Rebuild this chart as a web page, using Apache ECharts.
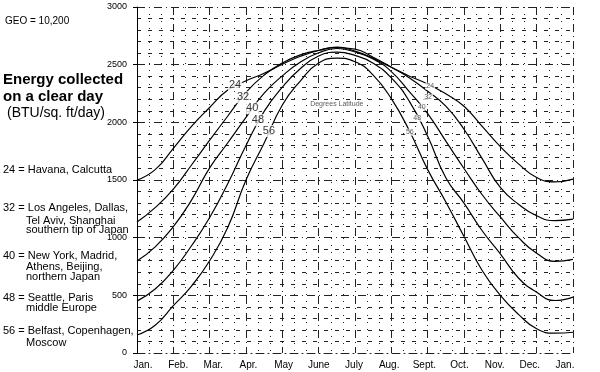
<!DOCTYPE html>
<html>
<head>
<meta charset="utf-8">
<script src="https://cdn.jsdelivr.net/npm/echarts@6/dist/echarts.min.js"></script>
<style>
html,body{margin:0;padding:0;background:#fff;}
#c{width:600px;height:372px;}
</style>
</head>
<body>
<div id="c"></div>
<script>
// ---- data ----
const MONTH_LABELS = ['Jan.','Feb.','Mar.','Apr.','May','June','July','Aug.','Sept.','Oct.','Nov.','Dec.','Jan.'];
// sample positions in months from Jan 1 (half-month steps)
const MONTH_POS = [0,0.5,1,1.5,2,2.5,3,3.5,4,4.5,5,5.5,6,6.5,7,7.5,8,8.5,9,9.5,10,10.5,11,11.5,12];
const LAT_24 = [1499,1590,1775,1965,2129,2280,2360,2425,2503,2573,2623,2652,2617,2555,2477,2400,2333,2247,2139,1965,1790,1640,1522,1484,1508];
const LAT_32 = [1135,1260,1420,1630,1845,2055,2260,2410,2515,2585,2625,2648,2635,2565,2478,2385,2270,2140,1940,1685,1435,1290,1190,1147,1160];
const LAT_40 = [797,920,1095,1325,1605,1823,2043,2253,2403,2523,2603,2640,2610,2550,2440,2265,2075,1837,1600,1372,1180,1000,865,795,812];
const LAT_48 = [450,555,717,930,1175,1470,1800,2095,2305,2467,2575,2608,2580,2513,2385,2180,1880,1520,1300,1060,860,650,527,455,485];
const LAT_56 = [156,240,410,580,800,1090,1500,1820,2150,2360,2515,2556,2525,2410,2205,1925,1590,1310,1010,715,500,335,210,172,180];
const SERIES_NAMES = ['24','32','40','48','56'];
const Y_TICKS = [0,500,1000,1500,2000,2500,3000];
// curve label anchors [month, value]
const LEFT_LABEL_AT = [[2.70,2323],[2.92,2218],[3.17,2123],[3.33,2019],[3.63,1924]];
const RIGHT_LABEL_AT = [[8.07,2314],[8.01,2218],[7.84,2132],[7.71,2036],[7.51,1915]];
const AXIS_NOTE = 'Degrees Latitude';
const AXIS_NOTE_AT = [5.5,2158];
const TITLE_LINES = ['Energy collected','on a clear day'];
const UNIT_LINE = '(BTU/sq. ft/day)';
const GEO_LINE = 'GEO = 10,200';
const LEGEND_LINES = [
  ['24 = Havana, Calcutta'],
  ['32 = Los Angeles, Dallas,','Tel Aviv, Shanghai','southern tip of Japan'],
  ['40 = New York, Madrid,','Athens, Beijing,','northern Japan'],
  ['48 = Seattle, Paris','middle Europe'],
  ['56 = Belfast, Copenhagen,','Moscow']
];

const FONT = '"Liberation Sans", Arial, sans-serif';
const chart = echarts.init(document.getElementById('c'), null, {renderer:'canvas'});
const DASH = [8,4,1,4];
const gridLine = {show:true, lineStyle:{color:'#222', width:1, type:DASH}};

const curves = [LAT_24, LAT_32, LAT_40, LAT_48, LAT_56];
const lineSeries = curves.map((vals, k) => ({
  name: SERIES_NAMES[k],
  type: 'line',
  xAxisIndex: 0, yAxisIndex: 0,
  data: MONTH_POS.map((m, i) => [m, vals[i]]),
  smooth: 0.5,
  showSymbol: false,
  lineStyle: {color:'#000', width:1.2},
  z: 3
}));

const leftLabels = {
  type:'scatter', xAxisIndex:0, yAxisIndex:0, symbolSize:0, z:10, silent:true,
  data: LEFT_LABEL_AT.map((p, k) => ({name: SERIES_NAMES[k], value: p})),
  label: {show:true, position:'inside', formatter:'{b}', color:'#000', fontFamily:FONT, fontSize:11,
          backgroundColor:'#fff', padding:[1,1,0,1]}
};
const rightLabels = {
  type:'scatter', xAxisIndex:0, yAxisIndex:0, symbolSize:0, z:10, silent:true,
  data: RIGHT_LABEL_AT.map((p, k) => ({name: SERIES_NAMES[k], value: p})),
  label: {show:true, position:'inside', formatter:'{b}', color:'#333', fontFamily:FONT, fontSize:7,
          backgroundColor:'#fff', padding:[0,1,0,1]}
};
const noteLabel = {
  type:'scatter', xAxisIndex:0, yAxisIndex:0, symbolSize:0, z:10, silent:true,
  data: [{name: AXIS_NOTE, value: AXIS_NOTE_AT}],
  label: {show:true, position:'inside', formatter:'{b}', color:'#333', fontFamily:FONT, fontSize:7,
          backgroundColor:'#fff', padding:[0,1,0,1]}
};

// left text block
const graphics = [];
graphics.push({type:'text', left:5, top:16, style:{text:GEO_LINE, font:'10px '+FONT, fill:'#000'}});
graphics.push({type:'text', left:3, top:72, style:{text:TITLE_LINES[0], font:'bold 15px '+FONT, fill:'#000'}});
graphics.push({type:'text', left:3, top:89, style:{text:TITLE_LINES[1], font:'bold 15px '+FONT, fill:'#000'}});
graphics.push({type:'text', left:7, top:106, style:{text:UNIT_LINE, font:'14px '+FONT, fill:'#000'}});
const legendY = [[170],[208,221,230],[256,267,277],[298,308],[331,343]];
LEGEND_LINES.forEach((lines, k) => {
  lines.forEach((t, j) => {
    graphics.push({type:'text', x: j === 0 ? 3 : 26, y: legendY[k][j],
      style:{text:t, font:'11px '+FONT, fill:'#000', verticalAlign:'middle'}});
  });
});

chart.setOption({
  animation:false,
  backgroundColor:'#fff',
  grid:[
    {left:137, right:27, top:7, bottom:19, containLabel:false},
    {left:143, right:35, top:7, bottom:19, containLabel:false}
  ],
  xAxis:[
    {type:'value', gridIndex:0, min:0, max:12, interval:1,
     axisLine:{show:true, onZero:false, lineStyle:{color:'#222', type:DASH}},
     axisTick:{show:false}, axisLabel:{show:false},
     splitLine: gridLine,
     minorTick:{show:false, splitNumber:3},
     minorSplitLine:{show:true, lineStyle:{color:'#222', width:1, type:[1,6]}}
    },
    {type:'category', gridIndex:1, data:MONTH_LABELS, boundaryGap:false,
     axisLine:{show:false}, axisTick:{show:false},
     axisLabel:{show:true, margin:7, color:'#000', fontFamily:FONT, fontSize:10, interval:0},
     splitLine:{show:false}
    }
  ],
  yAxis:[
    {type:'value', gridIndex:0, min:0, max:3000, interval:500,
     axisLine:{show:true, lineStyle:{color:'#000', width:1}},
     axisTick:{show:true, inside:false, length:4, lineStyle:{color:'#000'}},
     axisLabel:{show:true, margin:10, color:'#000', fontFamily:FONT, fontSize:9,
       formatter: v => Y_TICKS.indexOf(v) >= 0 ? String(v) : ''},
     splitLine: gridLine,
     minorTick:{show:false, splitNumber:5},
     minorSplitLine:{show:true, lineStyle:{color:'#222', width:1, type:[4,7]}}
    },
    {type:'value', gridIndex:1, min:0, max:1, show:false}
  ],
  series: lineSeries.concat([leftLabels, rightLabels, noteLabel]),
  graphic: graphics
});
</script>
</body>
</html>
